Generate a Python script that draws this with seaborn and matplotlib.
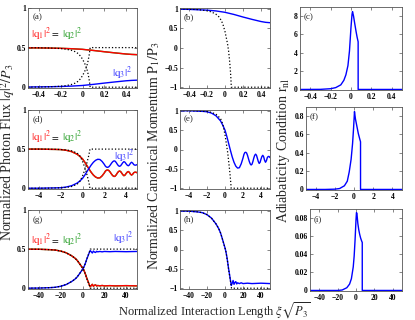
import matplotlib
matplotlib.use('Agg')
import matplotlib.pyplot as plt
import seaborn as sns

# ---------------- data ----------------
# row 1 : short interaction length, xi*sqrt(P3) in [-0.5, 0.5]
x_top = [-0.5, -0.4, -0.3, -0.2, -0.1, 0.0, 0.1, 0.2, 0.3, 0.4, 0.45, 0.5]
p1_top = [0.99, 0.985, 0.975, 0.965, 0.945, 0.91, 0.855, 0.79, 0.73, 0.675, 0.655, 0.645]
q1_top = [0.497, 0.496, 0.494, 0.491, 0.486, 0.478, 0.464, 0.448, 0.433, 0.419, 0.414, 0.411]
q3_top = [0.003, 0.004, 0.006, 0.009, 0.014, 0.022, 0.036, 0.052, 0.067, 0.081, 0.086, 0.089]

x_top_ad = [-0.5, -0.4, -0.3, -0.2, -0.15, -0.1, -0.07, -0.04, -0.02, 0.0, 0.02, 0.03,
            0.04, 0.05, 0.06, 0.066, 0.07, 0.5]
p1_top_ad = [0.995, 0.99, 0.98, 0.95, 0.92, 0.86, 0.80, 0.70, 0.58, 0.42, 0.20, 0.08,
             -0.08, -0.30, -0.58, -0.80, -1.0, -1.0]
q1_top_ad = [0.499, 0.498, 0.495, 0.488, 0.48, 0.465, 0.45, 0.425, 0.395, 0.355, 0.3, 0.27,
             0.23, 0.175, 0.105, 0.05, 0.0, 0.0]
q3_top_ad = [0.001, 0.002, 0.005, 0.012, 0.02, 0.035, 0.05, 0.075, 0.105, 0.145, 0.2, 0.23,
             0.27, 0.325, 0.395, 0.45, 0.5, 0.5]

x_top_r = [-0.5, -0.3, -0.2, -0.15, -0.1, -0.07, -0.05, -0.03, -0.015, 0.0, 0.01, 0.015,
           0.025, 0.035, 0.05, 0.06, 0.07, 0.0701, 0.5]
r_top = [0.0, 0.01, 0.08, 0.2, 0.5, 1.0, 1.6, 2.6, 4.2, 6.8, 8.2, 8.5,
         8.0, 7.3, 6.3, 5.7, 5.2, 0.0, 0.0]

# row 2 : xi*sqrt(P3) in [-5, 5]
x_mid = [-5, -4, -3, -2.5, -2, -1.5, -1, -0.5, -0.25, 0,
         0.2, 0.4, 0.6, 0.8, 1.0, 1.2, 1.4, 1.6, 1.8, 2.0,
         2.1, 2.2, 2.3, 2.4, 2.5, 2.6, 2.7, 2.8, 2.9, 3.0,
         3.1, 3.2, 3.3, 3.4, 3.5, 3.6, 3.7, 3.8, 3.9, 4.0,
         4.1, 4.2, 4.3, 4.4, 4.5, 4.6, 4.7, 4.8, 4.9, 5.0]
p1_mid = [1.0, 1.0, 0.99, 0.985, 0.975, 0.94, 0.87, 0.74, 0.63, 0.50,
          0.34, 0.16, -0.02, -0.19, -0.33, -0.43, -0.48, -0.47, -0.37, -0.22,
          -0.13, -0.08, -0.07, -0.09, -0.15, -0.23, -0.31, -0.37, -0.40, -0.38,
          -0.31, -0.22, -0.15, -0.12, -0.15, -0.23, -0.31, -0.36, -0.33, -0.25,
          -0.18, -0.15, -0.19, -0.28, -0.33, -0.29, -0.21, -0.18, -0.18, -0.21]
q1_mid = [0.5, 0.5, 0.497, 0.496, 0.494, 0.485, 0.468, 0.435, 0.408, 0.375,
          0.335, 0.29, 0.245, 0.203, 0.168, 0.143, 0.13, 0.133, 0.158, 0.195,
          0.218, 0.23, 0.233, 0.228, 0.213, 0.193, 0.173, 0.158, 0.15, 0.155,
          0.173, 0.195, 0.213, 0.22, 0.213, 0.193, 0.173, 0.16, 0.168, 0.188,
          0.205, 0.213, 0.203, 0.18, 0.168, 0.178, 0.198, 0.205, 0.205, 0.198]
q3_mid = [0.0, 0.0, 0.003, 0.004, 0.006, 0.015, 0.032, 0.065, 0.092, 0.125,
          0.165, 0.21, 0.255, 0.297, 0.332, 0.357, 0.37, 0.367, 0.342, 0.305,
          0.282, 0.27, 0.267, 0.272, 0.287, 0.307, 0.327, 0.342, 0.35, 0.345,
          0.327, 0.305, 0.287, 0.28, 0.287, 0.307, 0.327, 0.34, 0.332, 0.312,
          0.295, 0.287, 0.297, 0.32, 0.332, 0.322, 0.302, 0.295, 0.295, 0.302]

x_mid_ad = [-5, -4, -3, -2, -1.5, -1, -0.5, -0.25, 0, 0.15, 0.3, 0.45, 0.55, 0.62, 0.66, 0.68, 5]
p1_mid_ad = [1.0, 0.999, 0.995, 0.98, 0.96, 0.91, 0.8, 0.66, 0.38, 0.15, -0.08, -0.4,
             -0.62, -0.8, -0.92, -1.0, -1.0]
q1_mid_ad = [0.5, 0.5, 0.499, 0.495, 0.49, 0.478, 0.45, 0.415, 0.345, 0.288, 0.23, 0.15,
             0.095, 0.05, 0.02, 0.0, 0.0]
q3_mid_ad = [0.0, 0.0, 0.001, 0.005, 0.01, 0.022, 0.05, 0.085, 0.155, 0.212, 0.27, 0.35,
             0.405, 0.45, 0.48, 0.5, 0.5]

x_mid_r = [-5, -3, -2, -1.5, -1, -0.7, -0.5, -0.3, -0.15, -0.05, 0.05, 0.15, 0.3, 0.45,
           0.6, 0.68, 0.681, 5]
r_mid = [0.0, 0.0, 0.003, 0.01, 0.04, 0.09, 0.19, 0.33, 0.5, 0.66, 0.85, 0.77, 0.69, 0.61,
         0.55, 0.52, 0.0, 0.0]

# row 3 : xi*sqrt(P3) in [-50, 50]
x_bot = [-50, -40, -30, -25, -20, -15, -10, -7, -5, -3,
         -1, 0, 1, 2, 3, 4, 5, 6, 7, 8,
         9, 10, 11, 12, 13, 14, 16, 18, 20, 25,
         30, 40, 50]
p1_bot = [0.995, 0.99, 0.97, 0.95, 0.9, 0.81, 0.66, 0.54, 0.43, 0.28,
          0.12, 0.04, -0.05, -0.18, -0.33, -0.5, -0.64, -0.79, -0.93, -0.87,
          -0.8, -0.9, -0.85, -0.83, -0.89, -0.86, -0.88, -0.86, -0.88, -0.87,
          -0.88, -0.87, -0.88]
q1_bot = [0.499, 0.498, 0.493, 0.488, 0.475, 0.453, 0.415, 0.385, 0.358, 0.32,
          0.28, 0.26, 0.238, 0.205, 0.168, 0.125, 0.09, 0.053, 0.018, 0.033,
          0.05, 0.025, 0.038, 0.043, 0.028, 0.035, 0.03, 0.035, 0.03, 0.033,
          0.03, 0.033, 0.03]
q3_bot = [0.001, 0.002, 0.007, 0.012, 0.025, 0.047, 0.085, 0.115, 0.142, 0.18,
          0.22, 0.24, 0.262, 0.295, 0.332, 0.375, 0.41, 0.447, 0.482, 0.467,
          0.45, 0.475, 0.462, 0.457, 0.472, 0.465, 0.47, 0.465, 0.47, 0.467,
          0.47, 0.467, 0.47]

x_bot_ad = [-50, -40, -30, -25, -20, -15, -10, -7, -5, -3, -1, 0, 1, 2, 3, 4, 5, 6, 7, 7.2, 50]
p1_bot_ad = [0.995, 0.99, 0.97, 0.95, 0.9, 0.81, 0.66, 0.54, 0.43, 0.28, 0.12, 0.04, -0.06,
             -0.19, -0.34, -0.51, -0.66, -0.81, -0.95, -1.0, -1.0]
q1_bot_ad = [0.499, 0.498, 0.493, 0.488, 0.475, 0.453, 0.415, 0.385, 0.358, 0.32, 0.28, 0.26,
             0.235, 0.203, 0.165, 0.123, 0.085, 0.048, 0.013, 0.0, 0.0]
q3_bot_ad = [0.001, 0.002, 0.007, 0.012, 0.025, 0.047, 0.085, 0.115, 0.142, 0.18, 0.22, 0.24,
             0.265, 0.297, 0.335, 0.377, 0.415, 0.452, 0.487, 0.5, 0.5]

x_bot_r = [-50, -20, -15, -10, -7, -5, -3, -2, -1, 0, 0.5, 1, 2, 3, 4, 5, 6, 6.8, 6.81, 50]
r_bot = [0.0, 0.0, 0.0005, 0.003, 0.007, 0.013, 0.026, 0.038, 0.056, 0.078, 0.086, 0.085,
         0.074, 0.067, 0.062, 0.058, 0.055, 0.053, 0.0, 0.0]

# ticks
xt_top = [-0.4, -0.2, 0, 0.2, 0.4]
xt_mid = [-4, -2, 0, 2, 4]
xt_bot = [-40, -20, 0, 20, 40]
yt_flux = [0, 0.5, 1]
yt_mom = [-1, -0.5, 0, 0.5, 1]
yt_r_top = [0, 2, 4, 6, 8]
yt_r_mid = [0, 0.2, 0.4, 0.6, 0.8]
yt_r_bot = [0, 0.02, 0.04, 0.06, 0.08]
panel_tags = ['(a)', '(b)', '(c)', '(d)', '(e)', '(f)', '(g)', '(h)', '(i)']

# ---------------- style ----------------
sns.set_style('ticks')
plt.rcParams['font.family'] = ['Liberation Serif', 'DejaVu Serif']
plt.rcParams['mathtext.fontset'] = 'stix'
plt.rcParams['axes.linewidth'] = 0.6
plt.rcParams['axes.edgecolor'] = '#555555'

W, H = 415, 320
fig = plt.figure(figsize=(W / 100, H / 100), dpi=100)


def box(l, t, r, b):
    return [l / W, 1 - b / H, (r - l) / W, (b - t) / H]


def fmt(v):
    return f'{v:g}'.replace('-', '\u2212')


def style(ax, xt, yt, xlim, ylim, tag):
    ax.set_xlim(*xlim)
    ax.set_ylim(*ylim)
    ax.set_xticks(xt)
    ax.set_xticklabels([fmt(v) for v in xt])
    ax.set_yticks(yt)
    ax.set_yticklabels([fmt(v) for v in yt])
    ax.tick_params(direction='in', length=2, width=0.5, labelsize=5.5, pad=2,
                   top=True, right=True, colors='#555555', labelcolor='black')
    ax.tick_params(axis='y', pad=1.5)
    for lab in ax.get_xticklabels() + ax.get_yticklabels():
        lab.set_fontweight('bold')
    ax.set_xlabel('')
    ax.set_ylabel('')
    ax.text(0.04, 0.93, tag, transform=ax.transAxes, fontsize=6.5, va='top', ha='left')


def line(ax, x, y, color, ls='-', lw=1.0):
    sns.lineplot(x=x, y=y, ax=ax, color=color, linestyle=ls, linewidth=lw,
                 estimator=None, sort=False, legend=False)


def flux_label(ax, y0, x3, y3):
    tr = ax.get_yaxis_transform()   # x in axes fraction, y in data
    ax.text(0.03, y0, r'$|\mathrm{q_1}|^2$', transform=tr, color='#ff2020',
            fontsize=8, va='center', ha='left')
    ax.text(0.25, y0, r'$=$', transform=tr, color='black', fontsize=7,
            va='center', ha='center')
    ax.text(0.31, y0, r'$|\mathrm{q_2}|^2$', transform=tr, color='#2ca02c',
            fontsize=8, va='center', ha='left')
    ax.text(x3, y3, r'$|\mathrm{q_3}|^2$', transform=tr, color='#3b3bff',
            fontsize=8, va='center', ha='center')


cols = [(28, 137), (180, 270)]
rows12 = [(8, 88), (110, 189), (210, 289)]
boxes3 = [(300, 7, 402, 90), (306, 107, 402, 190), (310, 209, 402, 291)]

rows = [
    (x_top, p1_top, q1_top, q3_top, x_top_ad, p1_top_ad, q1_top_ad, q3_top_ad,
     x_top_r, r_top, xt_top, (-0.5, 0.5), yt_r_top, (-0.06, 9)),
    (x_mid, p1_mid, q1_mid, q3_mid, x_mid_ad, p1_mid_ad, q1_mid_ad, q3_mid_ad,
     x_mid_r, r_mid, xt_mid, (-5, 5), yt_r_mid, (-0.006, 0.9)),
    (x_bot, p1_bot, q1_bot, q3_bot, x_bot_ad, p1_bot_ad, q1_bot_ad, q3_bot_ad,
     x_bot_r, r_bot, xt_bot, (-50, 50), yt_r_bot, (-0.0006, 0.09)),
]
flux_pos = [(0.67, 0.86, 0.17), (0.65, 0.88, 0.41), (0.61, 0.875, 0.64)]

for i, (x, p1, q1, q3, xa, pa, q1a, q3a, xr, r, xt, xl, ytr, ylr) in enumerate(rows):
    # photon flux
    ax = fig.add_axes(box(cols[0][0], rows12[i][0], cols[0][1], rows12[i][1]))
    line(ax, x, q1, '#1a9a1a')
    line(ax, x, q1, '#ff0000')
    line(ax, x, q3, '#0000ff')
    line(ax, xa, q1a, 'black', ':', 0.9)
    line(ax, xa, q3a, 'black', ':', 0.9)
    style(ax, xt, yt_flux, xl, (-0.01, 1.0), panel_tags[3 * i])
    flux_label(ax, *flux_pos[i])

    # canonical momentum
    ax = fig.add_axes(box(cols[1][0], rows12[i][0], cols[1][1], rows12[i][1]))
    line(ax, x, p1, '#0000ff')
    line(ax, xa, pa, 'black', ':', 0.9)
    style(ax, xt, yt_mom, xl, (-1.02, 1.02), panel_tags[3 * i + 1])

    # adiabaticity
    ax = fig.add_axes(box(*boxes3[i]))
    line(ax, xr, r, '#0000ff')
    style(ax, xt, ytr, xl, ylr, panel_tags[3 * i + 2])

fig.text(8 / W, 1 - 152 / H, r'Normalized Photon Flux $|q|^2/P_3$', rotation=90,
         ha='center', va='center', fontsize=10)
fig.text(154 / W, 1 - 156 / H, r'Normalized Canonical Momentum $\mathrm{P}_1/\mathrm{P}_3$',
         rotation=90, ha='center', va='center', fontsize=10)
fig.text(283 / W, 1 - 150 / H, r'Adiabaticity Condition $\mathrm{r_{nl}}$', rotation=90,
         ha='center', va='center', fontsize=10)
fig.text(214 / W, 1 - 315.5 / H, r'Normalized Interaction Length $\xi\sqrt{P_3}$',
         ha='center', va='baseline', fontsize=9)

fig.savefig('out.png', dpi=100)
